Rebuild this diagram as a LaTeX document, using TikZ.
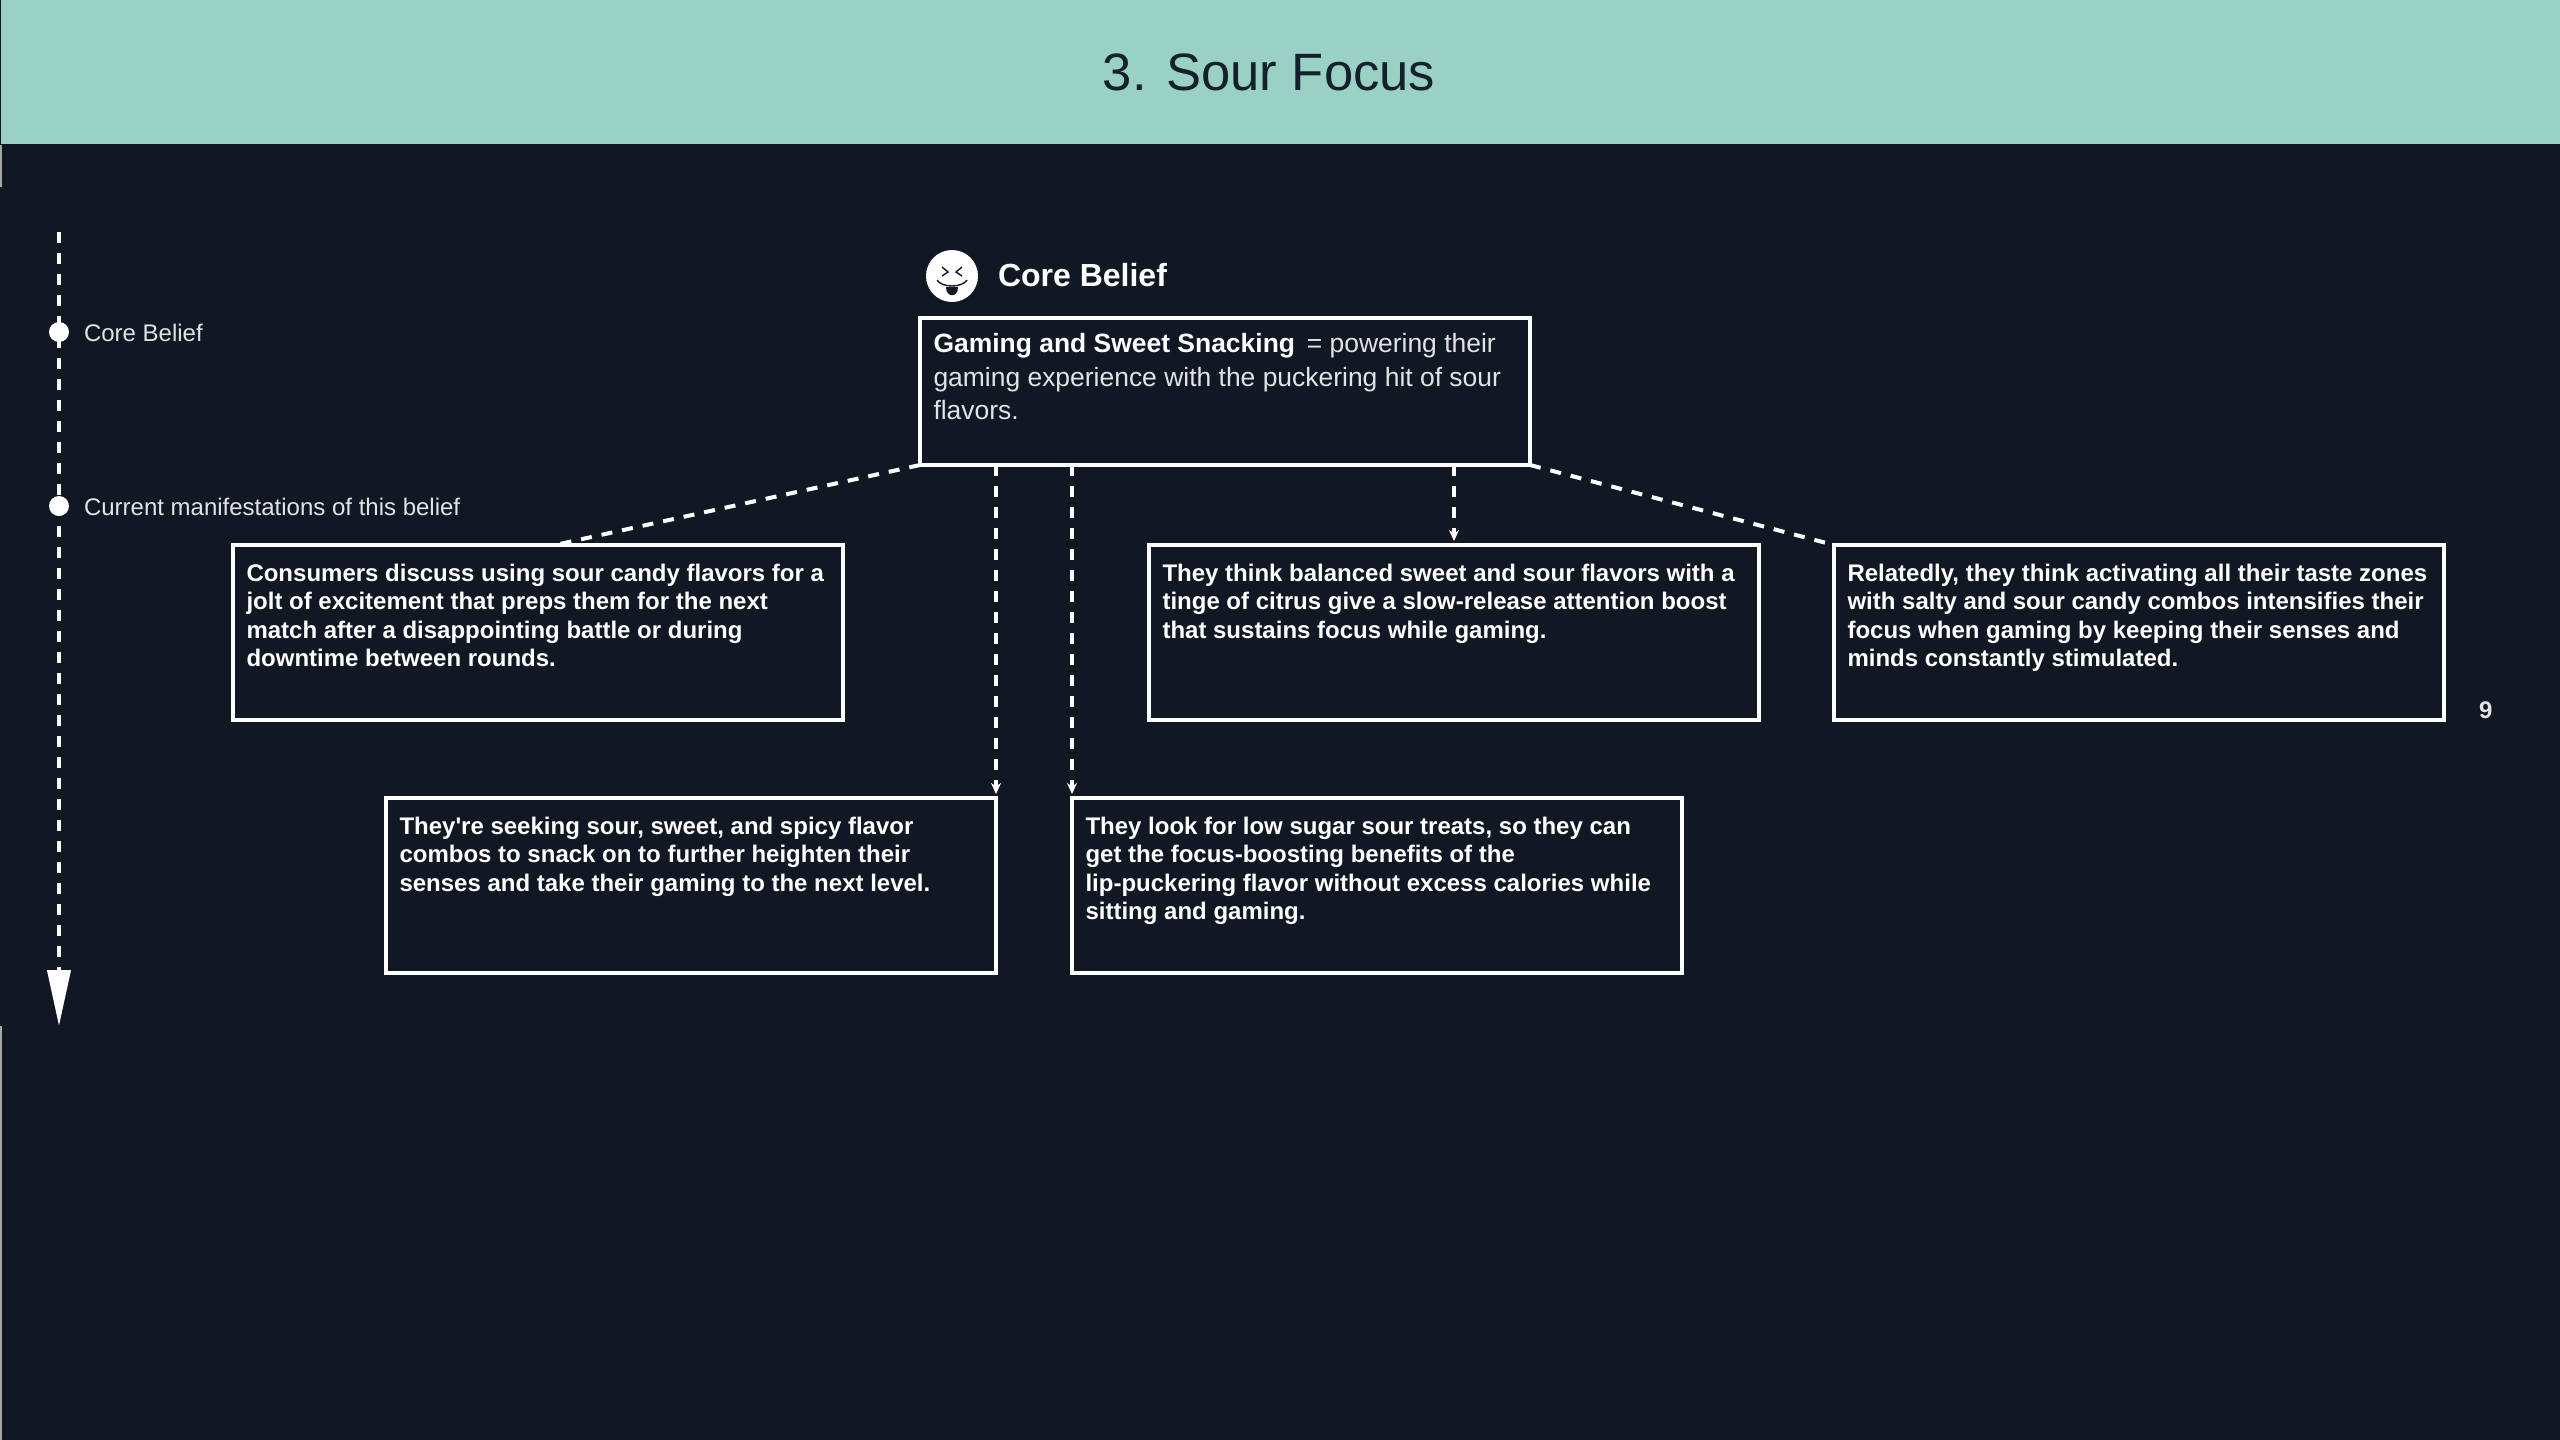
\documentclass[tikz,border=0pt]{standalone}
\usepackage{fontspec}
\setmainfont{Liberation Sans}
\usetikzlibrary{arrows.meta}
\definecolor{pagebg}{RGB}{17,24,35}
\definecolor{headbg}{RGB}{153,209,196}
\definecolor{headtxt}{RGB}{20,32,43}
\definecolor{softtxt}{RGB}{225,227,230}
\newcommand{\belieftext}[2][142.5pt]{\parbox[t][#1][t]{583pt}{\raggedright\strut #2}}

\begin{document}
\begin{tikzpicture}
[x=1pt,y=-1pt,>={Stealth[length=11pt,width=10pt]},
every node/.style={text=white,outer sep=0pt},
beliefbox/.style={draw=white,line width=4pt,anchor=north west,inner xsep=13.5pt,inner ysep=16pt,
  font=\fontsize{24pt}{28.6pt}\selectfont\bfseries},
corebox/.style={beliefbox,inner ysep=11.5pt,text=softtxt,font=\fontsize{26.45pt}{33.5pt}\selectfont},
label/.style={anchor=west,inner sep=0pt,text=softtxt,font=\fontsize{24pt}{29pt}\selectfont},
dot/.style={circle,fill=white,inner sep=0pt,minimum size=20pt},
link/.style={draw=white,line width=4pt,dash pattern=on 11pt off 10pt}]

\useasboundingbox (0,0) rectangle (2560,1440);
\fill[pagebg] (0,0) rectangle (2560,1440);
\fill[headbg] (1,0) rectangle (2560,144);
\fill[gray!70] (0,145) rectangle (2,187);
\fill[gray!70] (0,1026) rectangle (2,1440);

\node[text=headtxt,font=\fontsize{52.6pt}{60pt}\selectfont] (title) at (1269,72) {3. Sour Focus};
\node[label,font=\fontsize{24pt}{29pt}\selectfont] (page) at (2479,710) {\textbf{9}};

%timeline
\coordinate (start) at (59,232);
\coordinate (end) at (59,1026);
\draw[link,-{Triangle[length=56pt,width=23pt]}] (start) -- (end);
\node[dot] (dot1) at (59,332) {};
\node[dot] (dot2) at (59,506) {};
\node[label] (lab1) at (84,333) {Core Belief};
\node[label] (lab2) at (84,507) {Current manifestations of this belief};

%core belief
\node[circle,fill=white,inner sep=0pt,minimum size=52pt] (icon) at (952,276) {};
\draw[pagebg,line width=1.4pt] (942,267) -- (948,272) -- (942,276) (962,267) -- (956,272) -- (962,276);
\draw[pagebg,line width=1.4pt] (937,280) .. controls (942,288) and (962,288) .. (967,280);
\fill[pagebg] (946,287) -- (958,287) .. controls (958,298) and (946,298) .. (946,287);
\node[label,text=white,font=\fontsize{32pt}{38pt}\selectfont\bfseries] (head) at (998,275) {Core Belief};

\node[corebox] (core) at (920,318) {\belieftext[124pt]{\textbf{\color{white}Gaming and Sweet Snacking}\, = powering their\\
gaming experience with the puckering hit of sour\\
flavors.}};

%manifestations
\node[beliefbox] (a) at (233,545) {\belieftext{Consumers discuss using sour candy flavors for a\\
jolt of excitement that preps them for the next\\
match after a disappointing battle or during\\
downtime between rounds.}};
\node[beliefbox] (b) at (1149,545) {\belieftext{They think balanced sweet and sour flavors with a\\
tinge of citrus give a slow-release attention boost\\
that sustains focus while gaming.}};
\node[beliefbox] (c) at (1834,545) {\belieftext{Relatedly, they think activating all their taste zones\\
with salty and sour candy combos intensifies their\\
focus when gaming by keeping their senses and\\
minds constantly stimulated.}};
\node[beliefbox] (d) at (386,798) {\belieftext{They\textquotesingle re seeking sour, sweet, and spicy flavor\\
combos to snack on to further heighten their\\
senses and take their gaming to the next level.}};
\node[beliefbox] (e) at (1072,798) {\belieftext{They look for low sugar sour treats, so they can\\
get the focus-boosting benefits of the\\
lip-puckering flavor without excess calories while\\
sitting and gaming.}};

\draw[link] (core.south west) -- ([xshift=17pt]a.north);
\draw[link] (core.south east) -- (c.north west);
\foreach \to/\anc in {d/north east,e/north west,b/north}
\draw[link,->,shorten >=4pt] (\to.\anc |- core.south) -- (\to.\anc);

\end{tikzpicture}
\end{document}
